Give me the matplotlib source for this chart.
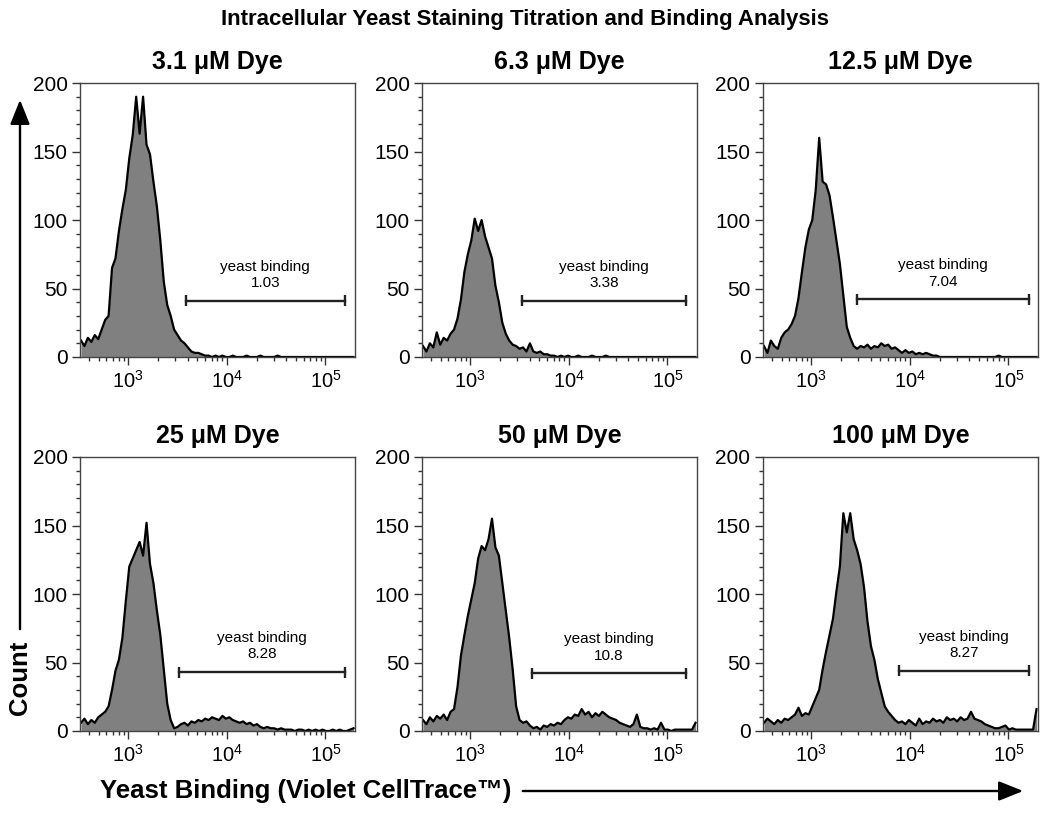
import numpy as np
import matplotlib
matplotlib.use("Agg")
import matplotlib.pyplot as plt
from matplotlib.patches import FancyArrowPatch
from matplotlib.ticker import LogLocator, MultipleLocator, NullFormatter

plt.rcParams['font.family'] = ['Liberation Sans', 'DejaVu Sans']
plt.rcParams['mathtext.fontset'] = 'custom'
plt.rcParams['mathtext.rm'] = 'Liberation Sans'

# MARK: data

# cytometer channels: log10 of first bin centre and step between bins
BIN_LOG_START = 2.52
BIN_LOG_STEP = 0.035

titles = ['3.1 μM Dye', '6.3 μM Dye', '12.5 μM Dye',
          '25 μM Dye', '50 μM Dye', '100 μM Dye']

counts_3_1 = [12, 8, 14, 11, 16, 13, 20, 27, 30, 65,
              72, 92, 108, 122, 145, 162, 190, 163, 190, 155,
              148, 128, 110, 85, 55, 38, 30, 20, 16, 12,
              10, 7, 4, 3, 3, 2, 1, 1, 0, 1,
              0, 1, 0, 0, 1, 0, 0, 0, 1, 0,
              0, 0, 1, 0, 0, 0, 0, 1, 0, 0,
              0, 0, 0, 0, 0, 0, 0, 0, 0, 0,
              0, 0, 0, 0, 0, 0, 0, 0, 0, 0]
counts_6_3 = [8, 4, 10, 7, 18, 9, 14, 12, 17, 20,
              28, 42, 62, 75, 85, 101, 92, 100, 88, 80,
              72, 52, 40, 25, 17, 12, 9, 8, 6, 7,
              4, 10, 4, 3, 4, 2, 2, 1, 1, 0,
              1, 0, 1, 0, 0, 1, 0, 0, 0, 1,
              0, 0, 0, 1, 0, 0, 0, 0, 0, 0,
              0, 0, 0, 0, 0, 0, 0, 0, 0, 0,
              0, 0, 0, 0, 0, 0, 0, 0, 0, 0]
counts_12_5 = [8, 3, 12, 8, 6, 14, 18, 20, 24, 30,
               43, 62, 80, 93, 100, 122, 160, 128, 126, 118,
               102, 85, 68, 45, 22, 14, 8, 6, 8, 7,
               9, 6, 8, 7, 10, 8, 9, 6, 7, 5,
               3, 5, 3, 4, 2, 3, 2, 3, 2, 1,
               1, 0, 0, 0, 0, 0, 0, 0, 0, 0,
               0, 0, 0, 0, 0, 0, 0, 0, 1, 0,
               0, 0, 0, 0, 0, 0, 0, 0, 0, 0]
counts_25 = [6, 9, 5, 8, 6, 10, 12, 14, 18, 30,
             44, 52, 68, 95, 120, 126, 132, 138, 128, 152,
             122, 108, 88, 70, 45, 20, 8, 2, 3, 5,
             6, 4, 7, 6, 8, 7, 9, 8, 10, 9,
             8, 11, 9, 10, 8, 7, 6, 7, 5, 6,
             4, 5, 3, 2, 3, 2, 2, 1, 2, 1,
             1, 1, 0, 1, 1, 0, 1, 0, 1, 0,
             1, 0, 0, 1, 0, 1, 0, 0, 1, 2]
counts_50 = [8, 5, 10, 7, 11, 9, 12, 8, 14, 16,
             32, 55, 70, 84, 96, 108, 126, 135, 132, 140,
             155, 134, 128, 108, 88, 68, 45, 18, 8, 6,
             7, 4, 2, 3, 1, 4, 3, 5, 4, 6,
             5, 8, 10, 9, 12, 11, 16, 12, 14, 10,
             13, 11, 14, 12, 10, 9, 8, 6, 5, 4,
             3, 5, 12, 3, 2, 2, 1, 2, 1, 6,
             1, 1, 0, 1, 1, 1, 1, 1, 1, 6]
counts_100 = [6, 9, 7, 5, 8, 6, 9, 8, 10, 12,
              17, 11, 13, 12, 18, 24, 30, 45, 58, 70,
              82, 102, 120, 159, 145, 159, 140, 132, 122, 105,
              80, 62, 52, 38, 28, 18, 14, 11, 8, 6,
              7, 5, 8, 6, 4, 9, 5, 7, 6, 9,
              7, 8, 6, 10, 8, 9, 7, 10, 8, 9,
              14, 9, 8, 7, 5, 4, 3, 2, 2, 3,
              4, 1, 2, 1, 1, 1, 1, 1, 1, 16]

panel_counts = [counts_3_1, counts_6_3, counts_12_5,
                counts_25, counts_50, counts_100]

# "yeast binding" gate per panel
gate_pct = ['1.03', '3.38', '7.04', '8.28', '10.8', '8.27']
gate_lo = [3830, 3330, 2940, 3300, 4200, 7800]
gate_hi = [157000, 156000, 162000, 158000, 155000, 162000]
gate_y = [41, 41, 42, 43, 42, 44]

# MARK: layout

W, H = 1050, 815
col_left = [80, 422, 763]
row_top = [83, 457]
ax_w, ax_h = 275, 274

fig = plt.figure(figsize=(W / 100, H / 100), dpi=100)

for k, counts in enumerate(panel_counts):
    r, c = divmod(k, 3)
    ax = fig.add_axes([col_left[c] / W, 1 - (row_top[r] + ax_h) / H, ax_w / W, ax_h / H])
    x = 10 ** (BIN_LOG_START + BIN_LOG_STEP * np.arange(len(counts)))
    y = np.asarray(counts, dtype=float)
    ax.fill_between(x, y, 0, color='#808080', lw=0)
    ax.plot(x, y, color='black', lw=1.6)

    ax.set_xscale('log')
    ax.set_xlim(10 ** 2.51, 10 ** 5.30)
    ax.set_ylim(0, 200)
    ax.xaxis.set_major_locator(LogLocator(base=10, numticks=10))
    ax.xaxis.set_minor_locator(LogLocator(base=10, subs=np.arange(2, 10), numticks=10))
    ax.xaxis.set_minor_formatter(NullFormatter())
    ax.yaxis.set_major_locator(MultipleLocator(50))
    ax.yaxis.set_minor_locator(MultipleLocator(10))
    ax.tick_params(which='major', direction='out', length=6, width=1, color='#333333', pad=3)
    ax.tick_params(which='minor', direction='out', length=3, width=1, color='#333333')
    ax.tick_params(axis='y', labelsize=15)
    ax.tick_params(axis='x', labelsize=14.5)
    for sp in ax.spines.values():
        sp.set_color('#444444')
        sp.set_linewidth(1)

    ax.set_title(titles[k], fontsize=18, fontweight='bold', pad=10)

    # gate bar with end caps and label
    gy = gate_y[k]
    ax.plot([gate_lo[k], gate_hi[k]], [gy, gy], color='#222222', lw=1.7)
    ax.vlines([gate_lo[k], gate_hi[k]], gy - 4, gy + 4, color='#222222', lw=1.7)
    mid = np.sqrt(gate_lo[k] * gate_hi[k])
    ax.text(mid, gy + 8, 'yeast binding\n' + gate_pct[k], ha='center', va='bottom',
            fontsize=11, linespacing=1.2)

# MARK: figure labels

fig.text(0.5, 1 - 25 / H, 'Intracellular Yeast Staining Titration and Binding Analysis',
         ha='center', va='baseline', fontsize=16, fontweight='bold')

fig.text(100 / W, 1 - 798 / H, 'Yeast Binding (Violet CellTrace™)',
         ha='left', va='baseline', fontsize=18.5, fontweight='bold')
fig.add_artist(FancyArrowPatch((520 / W, 1 - 791 / H), (1026 / W, 1 - 791 / H),
                               transform=fig.transFigure, arrowstyle='-|>,head_length=0.75,head_width=0.3',
                               mutation_scale=20, lw=1.7, color='black'))

fig.text(20 / W, 1 - 678 / H, 'Count', rotation=90, ha='center', va='center',
         fontsize=18.5, fontweight='bold')
fig.add_artist(FancyArrowPatch((20 / W, 1 - 632 / H), (20 / W, 1 - 97 / H),
                               transform=fig.transFigure, arrowstyle='-|>,head_length=0.75,head_width=0.3',
                               mutation_scale=20, lw=1.7, color='black'))

fig.savefig('out.png', dpi=100)
